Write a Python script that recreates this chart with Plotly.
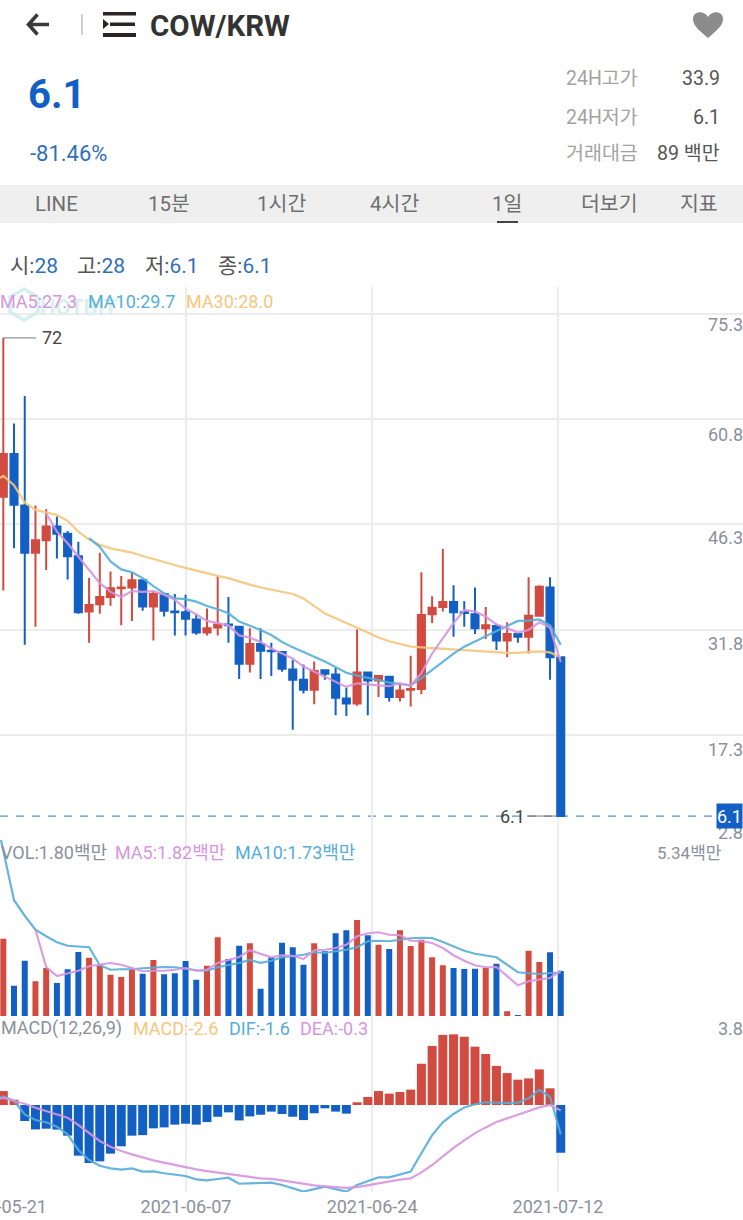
import plotly.graph_objects as go
import pandas as pd

W, H = 743, 1220

# Daily candles
dates = pd.date_range("2021-05-21", "2021-07-12", freq="D").strftime("%Y-%m-%d").tolist()
line_dates = ["2021-05-20"] + dates

opens = [50.1, 56.0, 48.9, 42.4, 44.1, 46.0, 45.0, 41.9, 34.3, 35.3, 36.3, 37.5, 37.6, 38.6, 35.0, 36.7, 34.3, 34.2,
         33.2, 31.4, 32.1, 32.5, 32.2, 27.1, 29.8, 28.9, 28.7, 26.3, 24.9, 23.5, 26.2, 25.6, 22.3, 21.6, 25.9, 24.8,
         25.3, 22.5, 23.5, 23.6, 33.9, 34.9, 35.6, 34.2, 33.9, 32.0, 32.3, 30.3, 31.2, 30.8, 33.7, 37.6, 28.0]
closes = [56.0, 49.0, 42.4, 44.1, 46.0, 45.0, 41.9, 34.2, 35.2, 36.3, 37.5, 37.6, 38.6, 35.0, 36.7, 34.4, 34.2, 33.3,
          31.4, 32.0, 32.5, 32.4, 27.1, 29.8, 28.9, 28.8, 26.4, 24.9, 23.5, 26.1, 25.7, 22.4, 21.6, 25.9, 24.8, 25.4,
          22.5, 23.4, 23.6, 33.8, 34.8, 35.6, 34.2, 34.1, 32.0, 32.4, 30.3, 31.2, 30.8, 33.7, 37.7, 28.0, 6.1]
highs = [72.0, 60.2, 64.0, 48.9, 48.4, 47.4, 45.4, 43.9, 38.9, 42.4, 39.8, 39.2, 39.7, 38.7, 37.1, 36.8, 36.7, 36.6,
         33.9, 34.7, 39.2, 36.3, 32.3, 32.0, 32.0, 30.0, 28.8, 27.6, 27.0, 27.4, 26.2, 26.5, 23.8, 31.8, 26.0, 25.5,
         25.3, 24.2, 28.2, 39.7, 36.4, 42.9, 37.9, 35.7, 37.6, 34.9, 32.6, 32.8, 31.2, 39.0, 37.9, 39.0, 28.0]
lows = [37.2, 43.0, 29.7, 32.2, 40.0, 41.6, 38.7, 34.0, 30.0, 34.0, 35.1, 32.4, 33.0, 34.4, 30.3, 33.6, 31.0, 31.0,
        31.1, 31.0, 31.0, 30.0, 25.0, 25.9, 25.0, 25.4, 26.0, 18.0, 23.0, 21.5, 24.9, 20.0, 19.9, 21.3, 20.0, 22.5,
        21.9, 21.9, 21.2, 22.9, 32.7, 34.3, 30.8, 32.2, 31.2, 30.5, 29.0, 28.0, 30.0, 28.5, 33.6, 24.9, 6.1]

# Price moving averages (first entry belongs to the day before the visible window)
ma5 = [None, None, None, None, None, 47.8, 45.3, 43.7, 41.85, 39.9, 38.2, 37.0, 36.3, 37.1, 37.0, 37.1, 36.6, 35.9,
       34.7, 33.9, 33.0, 32.7, 32.4, 31.0, 30.7, 30.1, 29.2, 28.5, 27.8, 26.7, 26.0, 25.3, 24.5, 23.9, 24.4, 24.2,
       24.1, 24.0, 24.4, 24.1, 25.8, 28.5, 30.6, 32.7, 34.5, 34.3, 33.6, 32.5, 32.0, 31.4, 31.75, 32.8, 32.1, 27.3]
ma10 = [None, None, None, None, None, None, None, None, None, 44.4, 43.2, 41.2, 40.1, 39.7, 38.9, 37.8, 36.8, 36.1,
        36.0, 35.65, 35.05, 34.6, 34.05, 32.9, 32.35, 31.75, 31.05, 30.1, 29.35, 28.65, 28.05, 27.4, 26.6, 25.85,
        25.45, 25.2, 24.85, 24.5, 24.3, 24.1, 25.1, 26.2, 27.4, 28.5, 29.45, 30.2, 30.9, 31.6, 32.3, 33.0, 33.05,
        33.2, 32.4, 29.7]
ma30 = [52.06, 53.0, 51.7, 49.3, 48.3, 47.9, 47.6, 46.8, 45.3, 44.2, 43.5, 43.0, 42.7, 42.4, 41.95, 41.5, 41.1, 40.7,
        40.3, 39.9, 39.5, 39.2, 38.9, 38.4, 38.0, 37.6, 37.3, 37.0, 36.7, 36.1, 35.05, 34.0, 33.35, 32.75, 32.05,
        31.4, 30.7, 30.2, 29.8, 29.45, 29.35, 29.25, 29.2, 29.1, 29.0, 28.85, 28.7, 28.6, 28.6, 28.6, 28.65, 28.8,
        28.65, 28.0]

# Volume, in millions
volume = [3.09, 1.21, 2.21, 1.39, 1.92, 1.32, 1.87, 2.56, 2.33, 2.03, 1.65, 1.56, 1.88, 1.69, 2.24, 1.67, 1.71, 2.20,
          1.45, 2.01, 3.15, 2.28, 2.81, 2.91, 1.09, 2.35, 2.93, 2.75, 2.05, 2.91, 2.59, 3.31, 3.43, 3.84, 3.23, 2.85,
          2.68, 3.43, 2.80, 3.05, 2.35, 2.03, 1.92, 1.88, 1.89, 1.92, 2.09, 0.19, 0.01, 2.61, 2.16, 2.55, 1.80]
vol_ma5 = [None, None, None, None, 3.45, 1.96, 1.60, 1.72, 1.81, 1.99, 2.05, 2.12, 2.05, 1.92, 1.79, 1.81, 1.81, 1.85,
           1.92, 1.81, 1.85, 2.12, 2.25, 2.36, 2.63, 2.49, 2.35, 2.43, 2.41, 2.28, 2.63, 2.65, 2.72, 2.85, 3.19, 3.31,
           3.35, 3.25, 3.23, 3.01, 2.99, 2.92, 2.72, 2.43, 2.21, 2.03, 1.95, 1.96, 1.59, 1.23, 1.39, 1.44, 1.52, 1.82]
vol_ma10 = [8.58, 6.59, 4.63, 4.01, 3.45, 3.19, 2.95, 2.81, 2.79, 2.75, 2.03, 1.85, 1.87, 1.87, 1.91, 1.95, 1.96, 1.95,
            1.89, 1.83, 1.81, 1.95, 2.04, 2.12, 2.24, 2.13, 2.21, 2.35, 2.39, 2.45, 2.55, 2.52, 2.59, 2.65, 2.75, 2.99,
            3.01, 2.99, 3.05, 3.11, 3.13, 3.12, 2.96, 2.79, 2.61, 2.49, 2.41, 2.35, 2.05, 1.75, 1.71, 1.68, 1.72, 1.73]

# MACD histogram and signal lines
macd_hist = [0.76, 0.29, -0.87, -1.33, -1.29, -1.34, -1.67, -2.76, -3.16, -3.07, -2.65, -2.25, -1.67, -1.64, -1.27,
             -1.22, -1.07, -1.02, -1.07, -0.93, -0.64, -0.40, -0.84, -0.62, -0.53, -0.36, -0.49, -0.64, -0.82, -0.45,
             -0.18, -0.36, -0.47, 0.15, 0.44, 0.76, 0.62, 0.71, 0.84, 2.25, 3.22, 3.82, 3.85, 3.72, 3.18, 2.78, 2.13,
             1.74, 1.38, 1.45, 1.94, 0.91, -2.6]
dif = [0.29, 0.47, 0.22, -0.51, -0.82, -0.94, -1.18, -1.60, -2.45, -3.0, -3.31, -3.45, -3.52, -3.45, -3.63, -3.62,
       -3.72, -3.78, -3.87, -4.05, -4.11, -4.03, -3.96, -4.29, -4.27, -4.25, -4.23, -4.36, -4.54, -4.72, -4.58, -4.45,
       -4.58, -4.72, -4.36, -4.14, -3.94, -3.94, -3.78, -3.63, -2.63, -1.64, -0.94, -0.49, -0.13, 0.04, 0.15, 0.11,
       0.11, 0.13, 0.36, 0.82, 0.45, -1.6]
dea = [0.22, 0.40, 0.22, 0.07, -0.15, -0.33, -0.47, -0.69, -1.09, -1.54, -1.96, -2.27, -2.51, -2.69, -2.87, -3.02,
       -3.14, -3.27, -3.40, -3.51, -3.60, -3.67, -3.74, -3.85, -3.92, -4.0, -4.03, -4.11, -4.20, -4.32, -4.38, -4.43,
       -4.49, -4.52, -4.47, -4.36, -4.25, -4.16, -4.07, -4.0, -3.67, -3.27, -2.80, -2.34, -1.93, -1.53, -1.22, -0.93,
       -0.73, -0.53, -0.36, -0.13, 0.0, -0.3]

price_ticks = [2.8, 17.3, 31.8, 46.3, 60.8, 75.3]
date_tick_pos = ["2021-05-20 17:00", "2021-06-07 01:00", "2021-06-24 09:36", "2021-07-11 17:46"]
date_tick_text = ["", "2021-06-07", "2021-06-24", "2021-07-12"]

RED = "#d14b40"
BLUE = "#1360c4"
PINK = "#d795e0"
CYAN = "#55aed9"
ORANGE = "#f6c67c"
GRAY = "#8b909c"
GRID = "#ececec"
FONT = "Roboto, 'Noto Sans CJK KR', sans-serif"
DAY_MS = 86400000


def px(x):
    return x / W


def py(y):
    return 1 - y / H


def label(x, y, text, size=18, color=GRAY, anchor="left", bold=False, yref=None, yshift=0):
    # annotations carry a small inner padding; the shift cancels it at the anchored edge
    xshift = {"left": -2, "right": 2, "center": 0}[anchor]
    return dict(
        x=px(x), xref="paper", xanchor=anchor, xshift=xshift,
        y=py(y) if yref is None else y, yref=yref or "paper", yanchor="middle", yshift=yshift,
        text=f"<b>{text}</b>" if bold else text, showarrow=False,
        font=dict(family=FONT, size=size, color=color),
    )


def path(d, fill=None, line=None, width=0):
    """Icon drawn in page pixels."""
    out = []
    for tok in d.split():
        if "," in tok:
            a, b = tok.split(",")
            out.append(f"{px(float(a)):.5f},{py(float(b)):.5f}")
        else:
            out.append(tok)
    return dict(
        type="path", xref="paper", yref="paper", path=" ".join(out), layer="above",
        fillcolor=fill or "rgba(0,0,0,0)", line=dict(color=line or "rgba(0,0,0,0)", width=width),
    )


def rect(x0, y0, x1, y1, color, layer="above"):
    return dict(type="rect", xref="paper", yref="paper", x0=px(x0), x1=px(x1), y0=py(y0), y1=py(y1),
                fillcolor=color, line=dict(width=0), layer=layer)


vol_colors = [RED if c >= o else BLUE for o, c in zip(opens, closes)]
hist_colors = [RED if v >= 0 else BLUE for v in macd_hist]


def ma_line(y, color, yaxis, width=2.2):
    return go.Scatter(x=line_dates, y=y, mode="lines", yaxis=yaxis, line=dict(color=color, width=width),
                      opacity=0.9, hoverinfo="skip", connectgaps=False)


fig = go.Figure()
fig.add_trace(go.Candlestick(
    x=dates, open=opens, high=highs, low=lows, close=closes, yaxis="y", whiskerwidth=0,
    increasing=dict(line=dict(color=RED, width=2), fillcolor=RED),
    decreasing=dict(line=dict(color=BLUE, width=2), fillcolor=BLUE),
))
fig.add_trace(ma_line(ma30, ORANGE, "y"))
fig.add_trace(ma_line(ma10, CYAN, "y"))
fig.add_trace(ma_line(ma5, PINK, "y"))

fig.add_trace(go.Bar(x=dates, y=volume, yaxis="y2", marker=dict(color=vol_colors, line=dict(width=0)),
                     width=0.56 * DAY_MS))
fig.add_trace(ma_line(vol_ma10, CYAN, "y2"))
fig.add_trace(ma_line(vol_ma5, PINK, "y2"))

fig.add_trace(go.Bar(x=dates, y=macd_hist, yaxis="y3", marker=dict(color=hist_colors, line=dict(width=0)),
                     width=0.84 * DAY_MS))
fig.add_trace(ma_line(dif, CYAN, "y3"))
fig.add_trace(ma_line(dea, PINK, "y3"))

shapes = [
    # header furniture
    rect(0, 185, W, 223, "#efefef", layer="below"),
    rect(497, 221, 518, 223, "#444444"),
    rect(81, 14, 83, 35, "#cfcfcf"),
    path("M 49,24.5 L 29,24.5 M 37.5,14.5 L 28.5,24.5 L 37.5,34.5", line="#3a3a3a", width=3.6),
    rect(103, 12, 136, 15.5, "#2a2422"),
    rect(110, 22.5, 135, 26, "#2a2422"),
    rect(103, 33, 136, 37, "#2a2422"),
    path("M 103,19 L 109,24 L 103,29 Z", fill="#2a2422"),
    path("M 708,38 C 700,31 693,26 693,19 C 693,11 704,10 708,17 C 712,10 723,11 723,19 C 723,26 716,31 708,38 Z",
         fill="#8c8c8c"),
    # faint brand mark behind the legend
    path("M 24,289 L 38,297 L 38,312 L 24,320 L 10,312 L 10,297 Z", line="#d3f0ec", width=3.5),
    # callouts for the high and the last price
    dict(type="line", xref="paper", yref="y", x0=px(3), x1=px(36), y0=72, y1=72, line=dict(color="#777777", width=1)),
    dict(type="line", xref="paper", yref="y", x0=px(527), x1=px(557), y0=6.1, y1=6.1,
         line=dict(color="#777777", width=1)),
    dict(type="line", xref="paper", yref="y", x0=0, x1=px(718), y0=6.1, y1=6.1, layer="below",
         line=dict(color="#5f92c9", width=1.3, dash="8px,8px")),
]

TAB = "#6f6f6f"
annotations = [
    label(150, 26, "COW/KRW", size=29.5, color="#333333", bold=True),
    label(28, 94, "6.1", size=40, color=BLUE, bold=True),
    label(30, 153, "-81.46%", size=22, color="#2f6fb8"),
    label(566, 79, "24H고가", size=19.5, color="#a3a3a3"),
    label(566, 117, "24H저가", size=19.5, color="#a3a3a3"),
    label(566, 154, "거래대금", size=19.5, color="#a3a3a3"),
    label(720, 79, "33.9", size=19.5, color="#555555", anchor="right"),
    label(720, 117, "6.1", size=19.5, color="#555555", anchor="right"),
    label(720, 154, "89 백만", size=19.5, color="#555555", anchor="right"),
    label(56, 204, "LINE", size=20.5, color=TAB, anchor="center"),
    label(169, 204, "15분", size=20.5, color=TAB, anchor="center"),
    label(281, 204, "1시간", size=20.5, color=TAB, anchor="center"),
    label(394, 204, "4시간", size=20.5, color=TAB, anchor="center"),
    label(507, 204, "1일", size=20.5, color=TAB, anchor="center"),
    label(609, 204, "더보기", size=20.5, color=TAB, anchor="center"),
    label(699, 204, "지표", size=20.5, color=TAB, anchor="center"),
    label(10, 266, "<span style='color:#555'>시:</span>28", size=21, color="#2f6fb8"),
    label(77, 266, "<span style='color:#555'>고:</span>28", size=21, color="#2f6fb8"),
    label(145, 266, "<span style='color:#555'>저:</span>6.1", size=21, color="#2f6fb8"),
    label(218, 266, "<span style='color:#555'>종:</span>6.1", size=21, color="#2f6fb8"),
    label(40, 307, "HOTBIT", size=22, color="#d9f1ee", bold=True),
    label(0, 301, "MA5:27.3", color=PINK),
    label(88, 301, "MA10:29.7", color=CYAN),
    label(186, 301, "MA30:28.0", color=ORANGE),
    label(1, 852, "VOL:1.80백만"),
    label(115, 852, "MA5:1.82백만", color=PINK),
    label(235, 852, "MA10:1.73백만", color=CYAN),
    label(722, 853, "5.34백만", size=17, anchor="right"),
    label(1, 1028, "MACD(12,26,9)"),
    label(133, 1028, "MACD:-2.6", color=ORANGE),
    label(229, 1028, "DIF:-1.6", color=CYAN),
    label(300, 1028, "DEA:-0.3", color=PINK),
    label(743, 1028, "3.8", anchor="right"),
    label(42, 72, "72", color="#444444", yref="y"),
    label(525, 6.1, "6.1", color="#444444", anchor="right", yref="y"),
    label(47, 1206, "2021-05-21", anchor="right"),
]
price_label_drop = {17.3: 15, 31.8: 14, 46.3: 13, 60.8: 15, 75.3: 11}
for v, drop in price_label_drop.items():
    annotations.append(label(743, v, str(v), anchor="right", yref="y", yshift=-drop))
annotations.append(label(743, 2.8, "2.8", anchor="right", yref="y", yshift=8))
# last-price flag sits over the bottom price tick
annotations.append(dict(
    x=1, xref="paper", xanchor="right", y=6.1, yref="y", yanchor="middle", text="6.1", showarrow=False,
    font=dict(family=FONT, size=18, color="white"), bgcolor=BLUE, width=25, height=24, borderpad=0,
))

fig.update_layout(
    width=W, height=H, autosize=False, margin=dict(l=0, r=0, t=0, b=0),
    paper_bgcolor="white", plot_bgcolor="white", showlegend=False, barmode="overlay", boxgap=0.05,
    font=dict(family=FONT),
    xaxis=dict(
        type="date", range=["2021-05-20 16:36", "2021-07-29 00:00"], anchor="y3", rangeslider=dict(visible=False),
        tickmode="array", tickvals=date_tick_pos, ticktext=date_tick_text, showgrid=True, gridcolor=GRID,
        gridwidth=1.8, ticks="", zeroline=False, showline=False, ticklabelstandoff=2,
        tickfont=dict(family=FONT, size=18, color=GRAY),
    ),
    yaxis=dict(domain=[py(840), py(287)], range=[2.8, 79.02], tickmode="array", tickvals=price_ticks,
               showticklabels=False, showgrid=True, gridcolor=GRID, gridwidth=2, zeroline=False, fixedrange=True),
    yaxis2=dict(domain=[py(1016), py(840)], range=[0, 7.04], tickmode="array", tickvals=[0],
                showticklabels=False, showgrid=True, gridcolor=GRID, gridwidth=2, zeroline=False, fixedrange=True),
    yaxis3=dict(domain=[py(1192), py(1016)], range=[-4.74, 4.85], tickmode="array", tickvals=[-4.74],
                showticklabels=False, showgrid=True, gridcolor=GRID, gridwidth=2, zeroline=False, fixedrange=True),
    shapes=shapes,
    annotations=annotations,
)

fig.write_html("out.html", config=dict(displayModeBar=False))
